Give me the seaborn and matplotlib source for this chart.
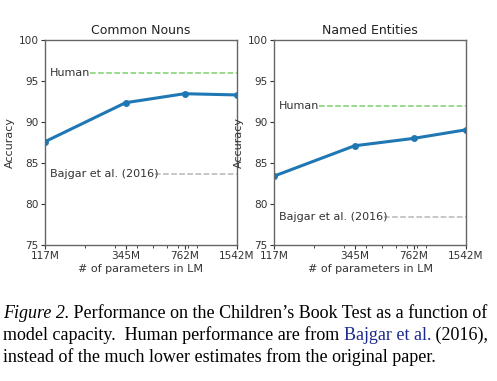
import matplotlib
matplotlib.use("Agg")
import matplotlib.pyplot as plt
import seaborn as sns
import pandas as pd
from matplotlib.ticker import FixedLocator, FixedFormatter, NullFormatter

params = [117, 345, 762, 1542]
tick_labels = ["117M", "345M", "762M", "1542M"]
cn_acc = [87.6, 92.35, 93.45, 93.3]
ne_acc = [83.4, 87.1, 88.0, 89.05]
cn_human, cn_bajgar = 96.0, 83.7
ne_human, ne_bajgar = 92.0, 78.4
titles = ["Common Nouns", "Named Entities"]

sns.set_style("ticks")
plt.rcParams['font.family'] = ['DejaVu Sans']

W, H = 497, 381
fig = plt.figure(figsize=(W/100, H/100), dpi=100)

def px(x, y, w, h):
    return [x / W, 1 - (y + h) / H, w / W, h / H]

axes = [fig.add_axes(px(45, 40, 192, 205)), fig.add_axes(px(274, 40, 192, 205))]
data = [(cn_acc, cn_human, cn_bajgar), (ne_acc, ne_human, ne_bajgar)]

for ax, title, (acc, hum, baj) in zip(axes, titles, data):
    df = pd.DataFrame({"params": params, "acc": acc})
    sns.lineplot(data=df, x="params", y="acc", ax=ax, color="#1f77b4",
                 linewidth=2.2, marker="o", markersize=5, markeredgewidth=0)
    ax.set_xscale("log")
    ax.set_xlim(params[0], params[-1])
    ax.set_ylim(75, 100)
    ax.set_yticks([75, 80, 85, 90, 95, 100])
    ax.xaxis.set_major_locator(FixedLocator(params))
    ax.xaxis.set_major_formatter(FixedFormatter(tick_labels))
    ax.xaxis.set_minor_formatter(NullFormatter())
    ax.axhline(hum, xmin=0.235, xmax=1, color="#7fcf6f", linestyle="--", linewidth=1.1)
    ax.axhline(baj, xmin=0.575, xmax=1, color="#b8b8b8", linestyle="--", linewidth=1.1)
    ax.text(0.027, hum, "Human", transform=ax.get_yaxis_transform(),
            va="center", ha="left", fontsize=8, color="#333333")
    ax.text(0.027, baj, "Bajgar et al. (2016)", transform=ax.get_yaxis_transform(),
            va="center", ha="left", fontsize=8, color="#333333")
    ax.set_title(title, fontsize=9, color="#222222", pad=4)
    ax.set_xlabel("# of parameters in LM", fontsize=8, color="#333333", labelpad=2)
    ax.set_ylabel("Accuracy", fontsize=8, color="#333333", labelpad=3)
    ax.tick_params(axis="both", labelsize=7.6, colors="#333333", length=3, width=0.8, pad=1.5)
    ax.tick_params(axis="x", which="minor", length=2, width=0.6)
    for s in ax.spines.values():
        s.set_color("#666666")
        s.set_linewidth(1.0)
        s.set_visible(True)

# caption
serif = ['Liberation Serif', 'DejaVu Serif']
fs = 13.0
renderer = fig.canvas.get_renderer()

def write_line(y, pieces, x0=3):
    x = x0
    for txt, style, color in pieces:
        t = fig.text(x / W, 1 - y / H, txt, fontsize=fs, family=serif, style=style,
                     color=color, va="baseline", ha="left")
        bb = t.get_window_extent(renderer=renderer)
        x += bb.width

write_line(318, [("Figure 2.", "italic", "black"),
                 (" Performance on the Children\u2019s Book Test as a function of", "normal", "black")])
write_line(340, [("model capacity.  Human performance are from ", "normal", "black"),
                 ("Bajgar et al.", "normal", "#1a2a8c"),
                 (" (2016),", "normal", "black")])
write_line(362, [("instead of the much lower estimates from the original paper.", "normal", "black")])

fig.savefig("out.png", dpi=100)
